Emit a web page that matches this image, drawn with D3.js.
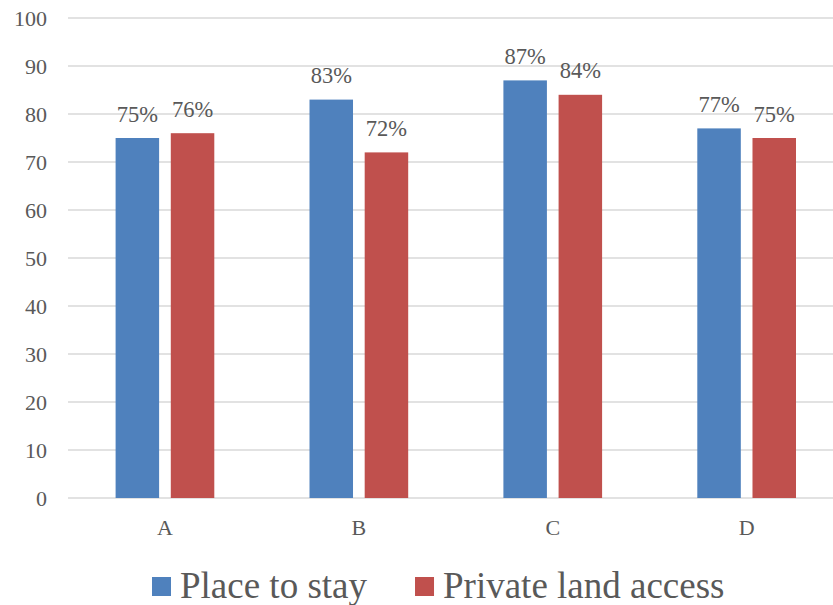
<!DOCTYPE html>
<html>
<head>
<meta charset="utf-8">
<script src="https://cdn.jsdelivr.net/npm/d3@7/dist/d3.min.js"></script>
<style>
  html, body { margin: 0; padding: 0; background: #fff; }
  svg { display: block; }
</style>
</head>
<body>
<svg id="chart" width="833" height="605"></svg>
<script>
const categories = ["A", "B", "C", "D"];
const seriesNames = ["Place to stay", "Private land access"];
const placeToStay = [75, 83, 87, 77];
const privateLandAccess = [76, 72, 84, 75];
const yTicks = [0, 10, 20, 30, 40, 50, 60, 70, 80, 90, 100];
const colors = ["#4F81BD", "#C0504D"];

const FONT = "'Liberation Serif', Tinos, 'Times New Roman', Times, serif";
const TEXT_COLOR = "#595959";

const seriesValues = [placeToStay, privateLandAccess];
const data = categories.map((c, i) => ({
  cat: c,
  values: seriesNames.map((s, j) => ({ series: s, value: seriesValues[j][i], idx: j }))
}));

const svg = d3.select("#chart");

const y = d3.scaleLinear().domain([0, 100]).range([498, 18]);
const x0 = d3.scaleBand().domain(categories).range([68, 843.6]).paddingInner(0.491).paddingOuter(0.2455);
const x1 = d3.scaleBand().domain(seriesNames).range([0, x0.bandwidth()]).paddingInner(0.2116).paddingOuter(0);

// gridlines
svg.append("g").selectAll("line").data(yTicks).join("line")
  .attr("x1", 68).attr("x2", 843.6)
  .attr("y1", d => y(d)).attr("y2", d => y(d))
  .attr("stroke", "#d9d9d9").attr("stroke-width", 1.5);

// y tick labels
svg.append("g").selectAll("text").data(yTicks).join("text")
  .attr("x", 47).attr("y", d => y(d)).attr("dy", "0.35em")
  .attr("text-anchor", "end").attr("font-size", 22)
  .attr("font-family", FONT).attr("fill", TEXT_COLOR)
  .text(d => d);

// bars
const groups = svg.append("g").selectAll("g").data(data).join("g")
  .attr("transform", d => `translate(${x0(d.cat)},0)`);

groups.selectAll("rect").data(d => d.values).join("rect")
  .attr("x", d => x1(d.series))
  .attr("width", x1.bandwidth())
  .attr("y", d => y(d.value))
  .attr("height", d => y(0) - y(d.value))
  .attr("fill", d => colors[d.idx]);

groups.selectAll("text").data(d => d.values).join("text")
  .attr("x", d => x1(d.series) + x1.bandwidth() / 2)
  .attr("y", d => y(d.value) - 16.5)
  .attr("text-anchor", "middle").attr("font-size", 22.5)
  .attr("font-family", FONT).attr("fill", TEXT_COLOR)
  .text(d => d.value + "%");

// category labels
svg.append("g").selectAll("text").data(categories).join("text")
  .attr("x", d => x0(d) + x0.bandwidth() / 2)
  .attr("y", 535)
  .attr("text-anchor", "middle").attr("font-size", 22)
  .attr("font-family", FONT).attr("fill", TEXT_COLOR)
  .text(d => d);

// legend
const legend = svg.append("g");
let lx = 152;
seriesNames.forEach((s, i) => {
  legend.append("rect").attr("x", lx).attr("y", 577).attr("width", 19).attr("height", 19).attr("fill", colors[i]);
  const t = legend.append("text").attr("x", lx + 28).attr("y", 598).attr("font-size", 37)
    .attr("font-family", FONT).attr("fill", TEXT_COLOR).text(s);
  lx = lx + 28 + t.node().getComputedTextLength() + 48;
});
</script>
</body>
</html>
